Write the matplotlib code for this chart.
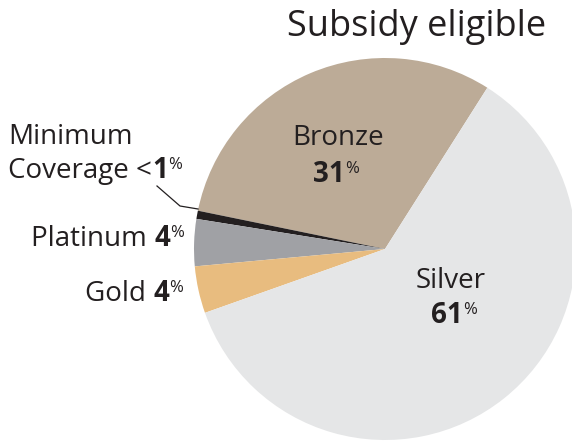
import matplotlib
matplotlib.use("Agg")
import matplotlib.pyplot as plt

# plan shares inside the subsidy eligible group
plans = ["Bronze", "Minimum Coverage", "Platinum", "Gold", "Silver"]
shares = [31, 0.7, 4, 4, 61]
colors = ["#bcab97", "#231f20", "#a0a1a5", "#e8bc7f", "#e5e6e7"]

W, H = 572, 442
INK = "#231f20"
plt.rcParams["font.family"] = ["Open Sans", "DejaVu Sans"]

fig = plt.figure(figsize=(W / 100, H / 100), dpi=100)

# pie placed in pixel space: centre (385, 249), radius 191
cx, cy, r = 385, 249, 191
ax = fig.add_axes([(cx - r) / W, (H - cy - r) / H, 2 * r / W, 2 * r / H])
ax.pie(shares, colors=colors, startangle=57.6, counterclock=True,
       radius=1, wedgeprops=dict(linewidth=0))
ax.set_xlim(-1, 1)
ax.set_ylim(-1, 1)
for p in ax.patches:
    p.set_clip_on(False)


def fx(x):
    return x / W


def fy(y):
    return (H - y) / H


renderer = fig.canvas.get_renderer()


def rich(x, y, pieces, ha="left"):
    # pieces: (text, weight, size, raise_px)
    texts = []
    widths = []
    for s, wt, sz, up in pieces:
        t = fig.text(0, 0, s, fontsize=sz, fontweight=wt, color=INK,
                     va="baseline", ha="left")
        widths.append(t.get_window_extent(renderer).width)
        texts.append((t, up))
    total = sum(widths)
    if ha == "center":
        x0 = x - total / 2
    elif ha == "right":
        x0 = x - total
    else:
        x0 = x
    for (t, up), w in zip(texts, widths):
        t.set_position((fx(x0), fy(y - up)))
        x0 += w


fig.text(fx(417), fy(36), "Subsidy eligible", fontsize=26, color=INK,
         ha="center", va="baseline")

big, sup, up = 20, 12, 9
rich(338, 145, [("Bronze", "normal", big, 0)], ha="center")
rich(336, 182, [("31", "bold", big, 0), ("%", "normal", sup, up)], ha="center")
rich(451, 288, [("Silver", "normal", big, 0)], ha="center")
rich(454, 323, [("61", "bold", big, 0), ("%", "normal", sup, up)], ha="center")

rich(8, 144, [("Minimum", "normal", big, 0)])
rich(8, 178, [("Coverage <", "normal", big, 0), ("1", "bold", big, 0),
              ("%", "normal", sup, up)])
rich(184, 246, [("Platinum ", "normal", big, 0), ("4", "bold", big, 0),
                ("%", "normal", sup, up)], ha="right")
rich(183, 301, [("Gold ", "normal", big, 0), ("4", "bold", big, 0),
                ("%", "normal", sup, up)], ha="right")

# leader line for the thin slice
fig.add_artist(plt.Line2D([fx(157), fx(180), fx(198)], [fy(186), fy(206), fy(209)],
                          color=INK, linewidth=0.9))

fig.savefig("out.png", dpi=100)
